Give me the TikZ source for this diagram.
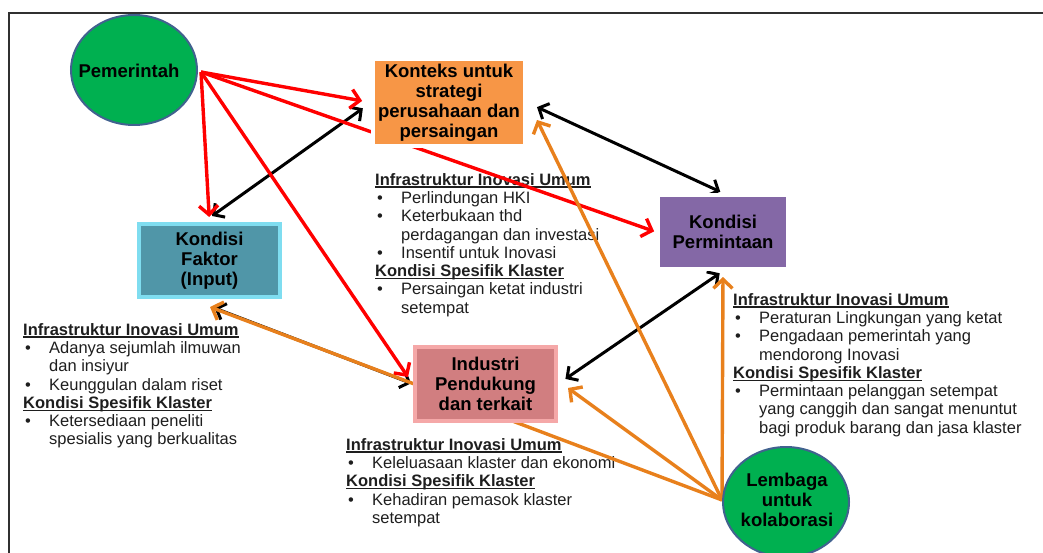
\documentclass[tikz,border=0pt]{standalone}
\usepackage{fontspec}
\setmainfont{Liberation Sans}
\usetikzlibrary{arrows.meta,shadows,calc,shapes.geometric}

\pgfdeclarelayer{notes}
\pgfdeclarelayer{links}
\pgfsetlayers{notes,links,main}

\definecolor{leaf}{HTML}{00B050}
\definecolor{rim}{HTML}{41628F}
\definecolor{tangerine}{HTML}{F79646}
\definecolor{lilac}{HTML}{8468A6}
\definecolor{tealbox}{HTML}{5096A8}
\definecolor{tealglow}{HTML}{7FDDF0}
\definecolor{rosebox}{HTML}{D17E80}
\definecolor{roseglow}{HTML}{F5A8A8}
\definecolor{amber}{HTML}{E8801C}
\definecolor{ink}{HTML}{1E1E1E}
\definecolor{frame}{HTML}{303030}

% underlined bold heading, rule at a fixed depth
\newsavebox\hdbox
\newcommand\hd[1]{\sbox\hdbox{\bfseries #1}\rlap{\rule[-2.4pt]{\wd\hdbox}{1.1pt}}\usebox\hdbox}
% bullet item and its continuation line
\newcommand\bul[1]{\hspace*{2pt}\makebox[24pt][l]{\textbullet}#1}
\newcommand\cont[1]{\hspace*{26pt}#1}

\begin{document}
\begin{tikzpicture}[x=1pt,y=-1pt,
  every node/.style={inner sep=0pt},
  oval/.style={ellipse, fill=leaf, draw=rim, line width=2pt,
    minimum width=126pt, minimum height=110pt},
  ovaltext/.style={align=center, text=black,
    font=\fontsize{18.5}{20}\selectfont\bfseries},
  card/.style={rectangle, align=center, text=black,
    font=\fontsize{18.5}{20}\selectfont\bfseries},
  whitecard/.style={card, draw=white, line width=4pt,
    drop shadow={shadow xshift=1.5pt, shadow yshift=-2pt, opacity=0.18, fill=black}},
  glowcard/.style={card, line width=4pt},
  note/.style={anchor=north west, align=left, text=ink,
    font=\fontsize{16.5}{18.3}\selectfont},
  link/.style={line width=3.4pt, line join=miter,
    -{Straight Barb[length=9pt,width=19pt]}},
  bilink/.style={line width=3pt,
    {Straight Barb[length=8pt,width=17pt]}-{Straight Barb[length=8pt,width=17pt]}},
  redlink/.style={link, draw=red},
  amberlink/.style={link, draw=amber},
  blacklink/.style={bilink, draw=black},
]
\useasboundingbox (0,0) rectangle (1043,553);

% actors
\node[oval] (pem) at (134,70) {};
\node[ovaltext] (pemText) at (129,71) {Pemerintah};
\node[oval] (lem) at (786,502) {};
\node[ovaltext] (lemText) at (787,500) {Lembaga\\untuk\\kolaborasi};

% the four corners of the diamond
\node[whitecard, fill=tangerine, minimum width=152pt, minimum height=87pt]
  (kon) at (449,102.5) {Konteks untuk\\strategi\\perusahaan dan\\persaingan};
\node[whitecard, fill=lilac, minimum width=130pt, minimum height=74pt]
  (perm) at (723,232) {Kondisi\\Permintaan};
\node[glowcard, fill=tealbox, draw=tealglow, minimum width=141pt, minimum height=73pt]
  (fak) at (209.5,260.5) {Kondisi\\Faktor\\(Input)};
\node[glowcard, fill=rosebox, draw=roseglow, minimum width=141pt, minimum height=74pt]
  (ind) at (485.5,384) {Industri\\Pendukung\\dan terkait};

% outer frame and the descriptive notes
\begin{pgfonlayer}{notes}
  \draw[frame, line width=2.5pt] (1060,13) -- (9,13) -- (9,570);
  \node[note] (noteKon) at (375,173) {%
    \hd{Infrastruktur Inovasi Umum}\\
    \bul{Perlindungan HKI}\\
    \bul{Keterbukaan thd}\\
    \cont{perdagangan dan investasi}\\
    \bul{Insentif untuk Inovasi}\\
    \hd{Kondisi Spesifik Klaster}\\
    \bul{Persaingan ketat industri}\\
    \cont{setempat}};
  \node[note] (noteFak) at (23,323) {%
    \hd{Infrastruktur Inovasi Umum}\\
    \bul{Adanya sejumlah ilmuwan}\\
    \cont{dan insiyur}\\
    \bul{Keunggulan dalam riset}\\
    \hd{Kondisi Spesifik Klaster}\\
    \bul{Ketersediaan peneliti}\\
    \cont{spesialis yang berkualitas}};
  \node[note] (noteInd) at (346,438) {%
    \hd{Infrastruktur Inovasi Umum}\\
    \bul{Keleluasaan klaster dan ekonomi}\\
    \hd{Kondisi Spesifik Klaster}\\
    \bul{Kehadiran pemasok klaster}\\
    \cont{setempat}};
  \node[note] (notePerm) at (733,293) {%
    \hd{Infrastruktur Inovasi Umum}\\
    \bul{Peraturan Lingkungan yang ketat}\\
    \bul{Pengadaan pemerintah yang}\\
    \cont{mendorong Inovasi}\\
    \hd{Kondisi Spesifik Klaster}\\
    \bul{Permintaan pelanggan setempat}\\
    \cont{yang canggih dan sangat menuntut}\\
    \cont{bagi produk barang dan jasa klaster}};
\end{pgfonlayer}

% arrow ends beside the boxes
\coordinate (pemOut) at ($(pem.east)+(3,2)$);
\coordinate (indRed) at ($(ind.west)+(-5,-7)$);
\coordinate (fakTop) at ($(fak.north)+(2.5,-6)$);
\coordinate (fakLow) at ($(fak.south)+(5,9)$);
\coordinate (fakAmber) at ($(fak.south)+(0.5,8)$);
\coordinate (konAmber) at ($(kon.south east)+(10,-28)$);
\coordinate (indAmber) at ($(ind.east)+(10,4)$);
\coordinate (lemOut) at ($(lem.west)+(0,-2)$);

\begin{pgfonlayer}{links}
  % diamond relations
  \draw[blacklink, shorten >=10pt] (fakTop) -- (kon.west);
  \draw[blacklink, shorten <=11pt, shorten >=3pt] (kon.east) -- (perm.north);
  \draw[blacklink, shorten <=4pt, shorten >=9pt] (perm.south) -- (ind.east);
  \draw[blacklink, shorten >=2pt] (fakLow) -- (ind.west);
  % government influence
  \draw[redlink, shorten >=9pt] (pemOut) -- (kon.west);
  \draw[redlink, shorten >=5pt] (pemOut) -- (fak.north);
  \draw[redlink, shorten >=2pt] (pemOut) -- (perm.west);
  \draw[redlink] (pemOut) -- (indRed);
  % institutions for collaboration
  \draw[amberlink] (lemOut) -- (konAmber);
  \draw[amberlink] (lemOut) -- (indAmber);
  \draw[amberlink] (lemOut) -- (fakAmber);
  \draw[amberlink, shorten >=6pt] (lemOut) -- (perm.south);
\end{pgfonlayer}
\end{tikzpicture}
\end{document}
